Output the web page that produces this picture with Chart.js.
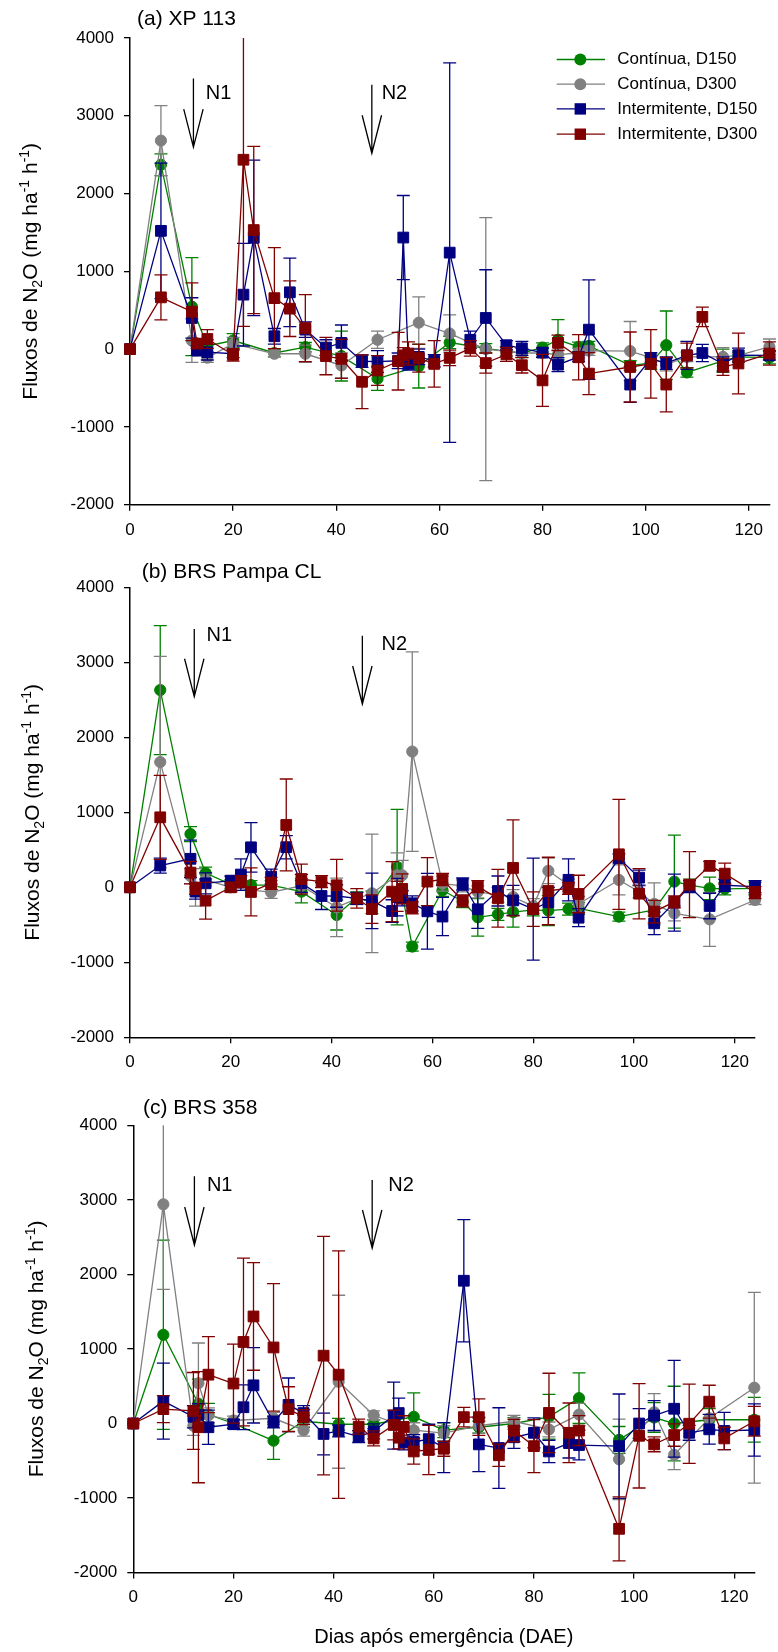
<!DOCTYPE html>
<html>
<head>
<meta charset="utf-8">
<script src="https://cdn.jsdelivr.net/npm/chart.js@4.4.1/dist/chart.umd.min.js"></script>
<style>
  html, body { margin: 0; padding: 0; background: #fff; }
  #wrap { position: relative; width: 778px; height: 1652px; overflow: hidden; background: #fff; }
  #wrap canvas { position: absolute; left: 0; }
</style>
</head>
<body>
<div id="wrap">
  <canvas id="panelA" width="778" height="545" style="top:0px"></canvas>
  <canvas id="panelB" width="778" height="535" style="top:545px"></canvas>
  <canvas id="panelC" width="778" height="572" style="top:1080px"></canvas>
</div>
<script>
// Sampling days (days after emergence); null = no measurement for that treatment
const days = [0,6,12,13,15,20,22,24,28,31,34,38,41,45,48,52,53,54,56,59,62,66,69,73,76,80,83,87,89,97,101,104,108,111,115,118,124];
const xTicks = [0,20,40,60,80,100,120];
const yTicks = [-2000,-1000,0,1000,2000,3000,4000];
const seriesNames = ['Contínua, D150','Contínua, D300','Intermitente, D150','Intermitente, D300'];
const panelTitles = ['(a) XP 113','(b) BRS Pampa CL','(c) BRS 358'];
const yTitleParts = [['Fluxos de N',0],['2',1],['O (mg ha',0],['-1',2],[' h',0],['-1',2],[')',0]];
const xTitle = 'Dias após emergência (DAE)';

// (a) XP 113 — mean N2O flux and standard error
const xpCont150    = [0,2370,545,null,40,110,null,null,-50,null,25,null,-90,null,-380,null,null,null,-220,null,85,null,10,-30,-50,20,120,30,40,-210,-180,50,-300,null,-150,-100,-110];
const xpCont150Se  = [0,140,630,null,80,90,null,null,50,null,60,null,320,null,150,null,null,null,280,null,80,null,60,60,60,60,260,60,60,60,80,440,60,null,150,60,80];
const xpCont300    = [0,2680,110,null,-110,70,null,null,-60,null,-60,null,-210,null,120,null,null,null,340,null,200,null,0,-30,-50,-50,-70,-50,-20,-25,-110,-200,-100,null,-100,-80,30];
const xpCont300Se  = [0,450,280,null,60,80,null,null,40,null,110,null,160,null,110,null,null,null,330,null,240,null,1690,60,60,60,60,60,60,380,60,80,60,null,120,60,100];
const xpInt150     = [0,1520,400,-20,-40,-60,700,1430,165,730,250,20,80,-156,-160,-150,1434,-190,-100,-150,1240,120,400,50,10,-45,-200,-100,250,-456,-125,-180,-80,-50,-190,-78,-80];
const xpInt150Se   = [0,870,260,60,100,50,660,1000,100,440,100,100,230,80,140,100,540,80,100,80,2440,110,620,60,90,60,90,60,640,230,80,80,180,110,90,90,60];
const xpInt300     = [0,665,480,70,130,-75,2434,1530,655,520,270,-90,-125,-420,-275,-156,-80,-57,-115,-190,-113,10,-180,-68,-207,-402,80,-105,-315,-230,-190,-456,-82,414,-228,-185,-57];
const xpInt300Se   = [0,290,370,60,120,80,2143,1075,650,358,430,240,250,345,190,370,100,150,180,300,100,100,130,90,100,335,100,290,270,450,440,350,160,125,110,390,150];

// (b) BRS Pampa CL
const pampaCont150   = [0,2630,710,null,190,40,null,30,30,null,-58,null,-369,-140,-200,null,270,null,-790,null,-40,-190,-400,-360,-330,-300,-310,-290,-280,-391,null,-300,76,30,-15,-20,-15];
const pampaCont150Se = [0,860,100,null,80,60,null,60,60,null,150,null,200,80,150,null,770,null,60,null,80,80,250,80,200,80,200,80,80,60,null,80,620,80,150,80,80];
const pampaCont300   = [0,1670,150,0,100,0,null,null,-67,null,20,null,-267,-150,-80,null,160,160,1810,null,50,20,-60,-100,-130,-250,220,30,-222,98,-60,-222,-347,null,-427,null,-169];
const pampaCont300Se = [0,1410,100,250,80,60,null,null,80,null,100,null,390,80,790,null,300,200,1330,null,100,80,80,100,100,100,170,80,100,200,80,280,100,null,360,null,60];
const pampaInt150    = [0,290,380,-58,53,89,170,533,142,535,53,-116,-116,-147,-180,-316,-130,-147,-213,-320,-390,44,-293,-49,-175,-290,-200,100,-405,387,129,-480,-204,10,-249,27,9];
const pampaInt150Se  = [0,100,250,100,140,60,210,330,100,155,120,180,150,80,370,150,250,100,100,505,255,80,255,200,200,680,200,280,120,60,100,150,380,80,170,80,80];
const pampaInt300    = [0,933,196,-13,-178,0,76,-62,53,831,110,76,27,-147,-290,-58,-120,-20,-275,76,104,-180,9,-147,258,-290,-49,-13,-89,440,-85,-324,-195,35,286,182,-70];
const pampaInt300Se  = [0,560,150,80,245,60,80,320,80,613,200,80,345,130,190,400,200,200,80,320,80,80,80,385,640,230,450,80,250,733,335,150,80,440,60,140,80];

// (c) BRS 358
const brsCont150   = [0,1190,null,265,120,0,null,null,-230,null,30,null,-10,null,-10,null,null,null,90,null,-90,null,-50,null,0,null,90,null,340,-220,null,80,0,null,50,null,50];
const brsCont150Se = [0,1270,null,330,150,60,null,null,250,null,80,null,80,null,60,null,null,null,320,null,100,null,80,null,80,null,300,null,340,180,null,200,500,null,150,null,300];
const brsCont300   = [0,2940,-30,540,110,40,null,null,70,null,-90,null,560,null,110,null,null,null,-90,null,-130,null,-30,null,30,null,-80,null,120,-480,null,150,-420,null,70,null,480];
const brsCont300Se = [0,1140,130,540,100,60,null,null,80,null,80,null,1160,null,60,null,null,null,100,null,100,null,100,null,80,null,100,null,150,540,null,250,200,null,150,null,1280];
const brsInt150    = [0,300,90,115,-50,-10,218,512,20,250,140,-140,-100,-175,-105,106,140,-255,-248,-210,-324,1915,-280,-329,-185,-125,-375,-263,-289,-304,0,106,198,-125,-78,-100,-87];
const brsInt150Se  = [0,510,150,150,230,60,300,505,80,360,100,280,80,80,100,450,200,100,100,200,335,820,365,540,150,200,150,200,200,700,200,200,650,100,200,250,350];
const brsInt300    = [0,193,168,-50,655,536,1094,1436,1020,193,85,910,655,-42,-200,-20,-190,-46,-375,-355,-339,85,85,-426,-95,-304,142,-125,-95,-1413,-165,-279,-155,-3,293,-200,30];
const brsInt300Se  = [0,180,516,745,510,530,1125,722,855,300,100,1600,1660,100,100,200,150,150,170,330,100,130,244,150,150,355,532,400,200,430,700,100,150,532,220,150,200];

// Fertilizer N application arrows: day, top and tip of the shaft, label anchor
const arrowsA = [
  { label: 'N1', day: 12.3, top: 3477, tip: 2595, labelDay: 14.7, labelValue: 3281 },
  { label: 'N2', day: 46.9, top: 3398, tip: 2517, labelDay: 48.8, labelValue: 3281 }
];
const arrowsB = [
  { label: 'N1', day: 12.75, top: 3444, tip: 2541, labelDay: 15.2, labelValue: 3355 },
  { label: 'N2', day: 46.1, top: 3355, tip: 2444, labelDay: 49.9, labelValue: 3231 }
];
const arrowsC = [
  { label: 'N1', day: 12.2, top: 3316, tip: 2394, labelDay: 14.7, labelValue: 3190 },
  { label: 'N2', day: 47.7, top: 3266, tip: 2354, labelDay: 50.9, labelValue: 3190 }
];

const FONT = "'Liberation Sans', Arial, Helvetica, sans-serif";
Chart.defaults.font.family = FONT;
Chart.defaults.color = '#000';

const seriesColors = ['rgb(0,128,0)', 'rgb(128,128,128)', 'rgb(0,0,128)', 'rgb(128,0,0)'];
const seriesShapes = ['circle', 'circle', 'rect', 'rect'];

function toPoints(vals, errs) {
  const out = [];
  days.forEach((d, i) => {
    if (vals[i] !== null) out.push({ x: d, y: vals[i], e: errs[i] || 0 });
  });
  return out;
}

function makeDatasets(list) {
  return list.map(([vals, errs], i) => ({
    label: seriesNames[i],
    data: toPoints(vals, errs),
    borderColor: seriesColors[i],
    backgroundColor: seriesColors[i],
    borderWidth: 1.3,
    pointStyle: seriesShapes[i],
    pointRadius: seriesShapes[i] === 'circle' ? 5.6 : 7.6,
    pointBorderWidth: 1,
    pointHoverRadius: 0,
    tension: 0,
    clip: false,
    order: 3 - i   // red series drawn on top
  }));
}

// Vertical standard-error bars, drawn just beneath each series
const errorBars = {
  id: 'errorBars',
  beforeDatasetDraw(chart, args) {
    const ds = chart.data.datasets[args.index];
    const xs = chart.scales.x, ys = chart.scales.y, area = chart.chartArea;
    const ctx = chart.ctx;
    const cap = 6.5;
    ctx.save();
    ctx.strokeStyle = ds.borderColor;
    ctx.lineWidth = 1.3;
    ds.data.forEach(p => {
      if (!p.e) return;
      const x = xs.getPixelForValue(p.x);
      let t = ys.getPixelForValue(p.y + p.e);
      let b = ys.getPixelForValue(p.y - p.e);
      const topClipped = t < area.top, botClipped = b > area.bottom;
      t = Math.max(t, area.top);
      b = Math.min(b, area.bottom);
      ctx.beginPath();
      ctx.moveTo(x, t); ctx.lineTo(x, b);
      if (!topClipped) { ctx.moveTo(x - cap, t); ctx.lineTo(x + cap, t); }
      if (!botClipped) { ctx.moveTo(x - cap, b); ctx.lineTo(x + cap, b); }
      ctx.stroke();
    });
    ctx.restore();
  }
};

function drawYTitle(ctx, baselineX, centerY) {
  const big = '21px ' + FONT, small = '14px ' + FONT;
  ctx.save();
  let total = 0;
  const widths = yTitleParts.map(([t, k]) => {
    ctx.font = k ? small : big;
    const w = ctx.measureText(t).width;
    total += w;
    return w;
  });
  ctx.translate(baselineX, centerY);
  ctx.rotate(-Math.PI / 2);
  ctx.fillStyle = '#000';
  ctx.textBaseline = 'alphabetic';
  ctx.textAlign = 'left';
  let x = -total / 2;
  yTitleParts.forEach(([t, k], i) => {
    ctx.font = k ? small : big;
    const dy = k === 1 ? 5 : (k === 2 ? -8 : 0);
    ctx.fillText(t, x, dy);
    x += widths[i];
  });
  ctx.restore();
}

function decorPlugin(cfg) {
  return {
    id: 'decor',
    afterDraw(chart) {
      const ctx = chart.ctx, xs = chart.scales.x, ys = chart.scales.y, area = chart.chartArea;
      ctx.save();
      // panel title
      ctx.fillStyle = '#000';
      ctx.font = '21px ' + FONT;
      ctx.textBaseline = 'middle';
      ctx.textAlign = 'left';
      ctx.fillText(cfg.title, cfg.titleX, cfg.titleY);
      // N application arrows
      ctx.strokeStyle = '#000';
      ctx.lineWidth = 1.3;
      cfg.arrows.forEach(a => {
        const x = xs.getPixelForValue(a.day);
        const yt = ys.getPixelForValue(a.top);
        const yb = ys.getPixelForValue(a.tip);
        ctx.beginPath();
        ctx.moveTo(x, yt); ctx.lineTo(x, yb);
        ctx.moveTo(x - 9.7, yb - 38); ctx.lineTo(x, yb); ctx.lineTo(x + 9.7, yb - 38);
        ctx.stroke();
        ctx.font = '20px ' + FONT;
        ctx.fillText(a.label, xs.getPixelForValue(a.labelDay), ys.getPixelForValue(a.labelValue));
      });
      ctx.restore();
      drawYTitle(ctx, cfg.yTitleX, (area.top + area.bottom) / 2);
      if (cfg.legend) {
        ctx.save();
        const rows = [59.5, 84.2, 108.9, 134.2];
        seriesNames.forEach((name, i) => {
          const y = rows[i];
          ctx.strokeStyle = seriesColors[i];
          ctx.fillStyle = seriesColors[i];
          ctx.lineWidth = 1.3;
          ctx.beginPath(); ctx.moveTo(556.7, y); ctx.lineTo(605, y); ctx.stroke();
          if (seriesShapes[i] === 'circle') {
            ctx.beginPath(); ctx.arc(580.3, y, 6, 0, Math.PI * 2); ctx.fill();
          } else {
            ctx.fillRect(580.3 - 5.7, y - 5.7, 11.4, 11.4);
          }
          ctx.fillStyle = '#000';
          ctx.font = '17px ' + FONT;
          ctx.textBaseline = 'middle';
          ctx.textAlign = 'left';
          ctx.fillText(name, 617.3, y);
        });
        ctx.restore();
      }
      if (cfg.xTitle) {
        ctx.save();
        ctx.fillStyle = '#000';
        ctx.font = '20px ' + FONT;
        ctx.textAlign = 'center';
        ctx.textBaseline = 'middle';
        ctx.fillText(cfg.xTitle, (area.left + area.right) / 2, cfg.xTitleY);
        ctx.restore();
      }
    }
  };
}

function makePanel(id, list, p) {
  const canvas = document.getElementById(id);
  const H = canvas.height;
  return new Chart(canvas, {
    type: 'line',
    data: { datasets: makeDatasets(list) },
    options: {
      responsive: false,
      animation: false,
      devicePixelRatio: 1,
      events: [],
      layout: { padding: { left: 0, top: p.top, right: p.right, bottom: 0 } },
      plugins: { legend: { display: false }, tooltip: { enabled: false }, title: { display: false } },
      scales: {
        x: {
          type: 'linear', min: 0, max: 124,
          afterBuildTicks: s => { s.ticks = xTicks.map(v => ({ value: v })); },
          afterFit: s => { s.height = H - p.bottom; },
          ticks: { font: { size: 17 }, color: '#000', padding: 9, maxRotation: 0, autoSkip: false, callback: v => String(v) },
          grid: { display: true, drawOnChartArea: false, drawTicks: true, tickLength: 6, color: '#000', lineWidth: 1.3 },
          border: { display: true, color: '#000', width: 1.5 }
        },
        y: {
          type: 'linear', min: -2000, max: 4000,
          afterBuildTicks: s => { s.ticks = yTicks.map(v => ({ value: v })); },
          afterFit: s => { s.width = p.left; },
          ticks: { font: { size: 17 }, color: '#000', padding: 10, callback: v => String(v) },
          grid: { display: true, drawOnChartArea: false, drawTicks: true, tickLength: 6, color: '#000', lineWidth: 1.3 },
          border: { display: true, color: '#000', width: 1.5 }
        }
      }
    },
    plugins: [errorBars, decorPlugin(p.decor)]
  });
}

makePanel('panelA', [[xpCont150, xpCont150Se], [xpCont300, xpCont300Se], [xpInt150, xpInt150Se], [xpInt300, xpInt300Se]], {
  top: 37.9, right: 0, bottom: 504.7, left: 130,
  decor: { title: panelTitles[0], titleX: 137, titleY: 19.3, arrows: arrowsA, yTitleX: 36.7, legend: true }
});
makePanel('panelB', [[pampaCont150, pampaCont150Se], [pampaCont300, pampaCont300Se], [pampaInt150, pampaInt150Se], [pampaInt300, pampaInt300Se]], {
  top: 42.3, right: 23, bottom: 492.3, left: 130,
  decor: { title: panelTitles[1], titleX: 141.7, titleY: 27.3, arrows: arrowsB, yTitleX: 39.3 }
});
makePanel('panelC', [[brsCont150, brsCont150Se], [brsCont300, brsCont300Se], [brsInt150, brsInt150Se], [brsInt300, brsInt300Se]], {
  top: 45.3, right: 23.7, bottom: 492.6, left: 133.3,
  decor: { title: panelTitles[2], titleX: 143, titleY: 28.3, arrows: arrowsC, yTitleX: 43.3, xTitle: xTitle, xTitleY: 557.6 }
});
</script>
</body>
</html>
